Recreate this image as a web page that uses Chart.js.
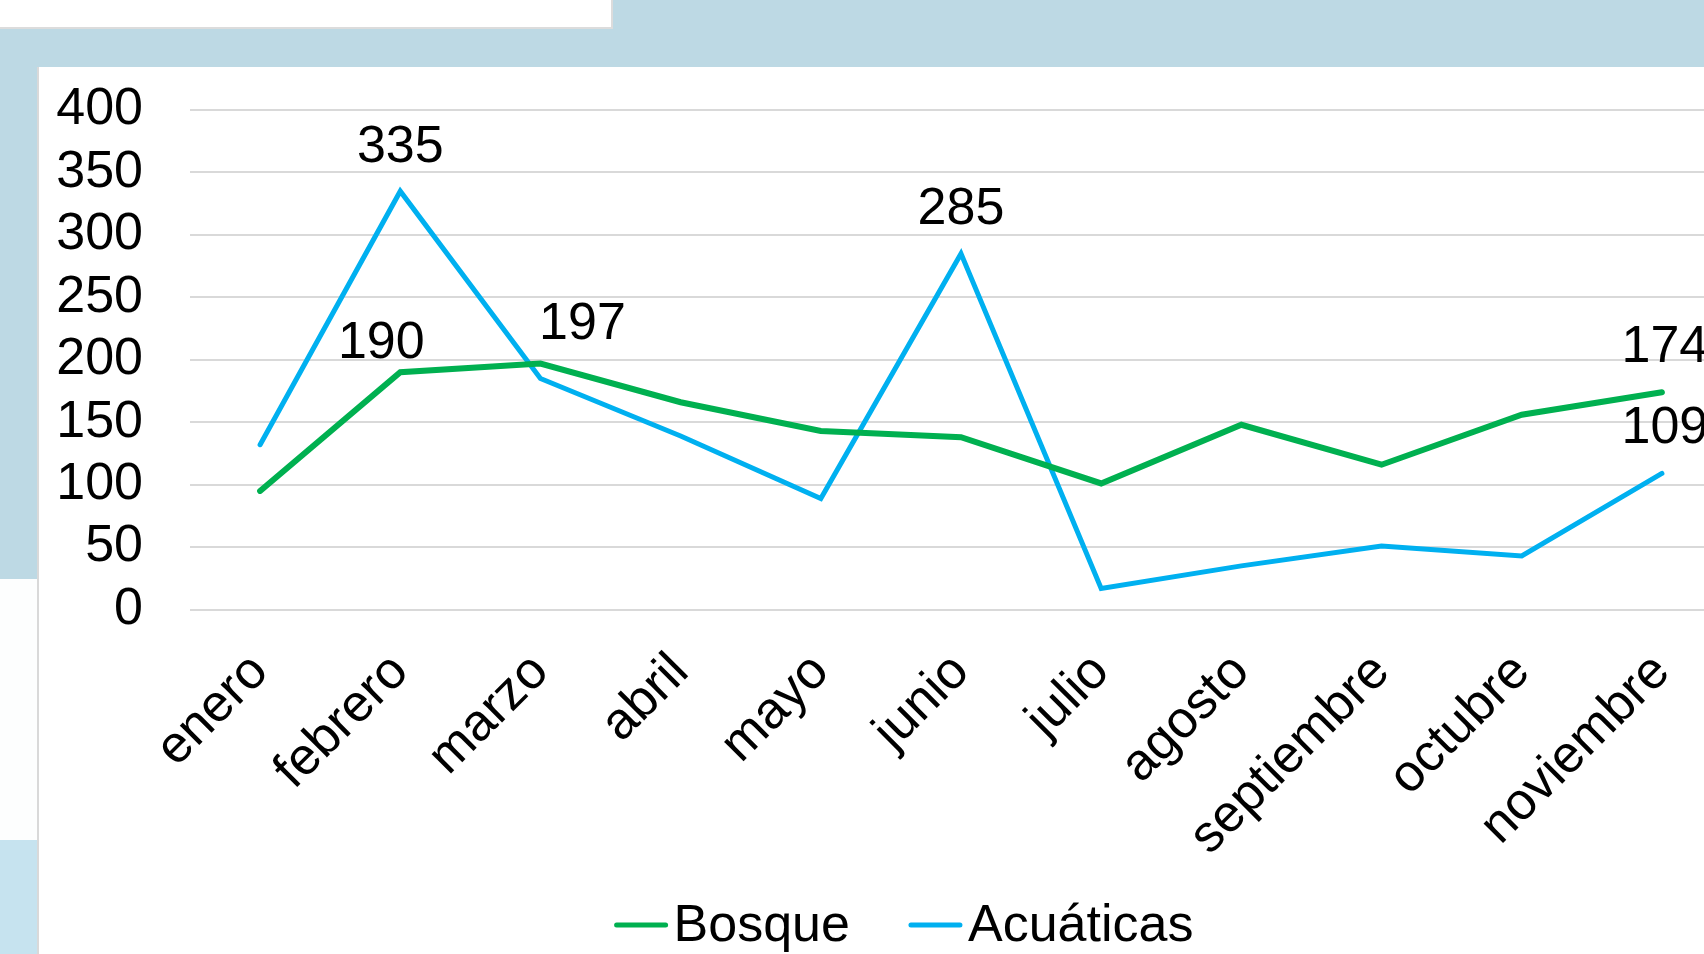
<!DOCTYPE html>
<html>
<head>
<meta charset="utf-8">
<script src="https://cdn.jsdelivr.net/npm/chart.js@4/dist/chart.umd.min.js"></script>
<style>
    html, body { margin: 0; padding: 0; }
    body { width: 1704px; height: 954px; overflow: hidden; position: relative; background: #bdd9e4; }
    .strip { position: absolute; }
    #topStrip { left: 0; top: 0; width: 611px; height: 27px; background: #fff; border-right: 2px solid #dcdcdc; border-bottom: 2px solid #dcdcdc; }
    #leftWhite { left: 0; top: 579px; width: 40px; height: 261px; background: #fdfefe; }
    #leftLight { left: 0; top: 840px; width: 40px; height: 114px; background: #c6e3ef; }
    #panel { left: 37px; top: 67px; width: 1800px; height: 900px; background: #fff; border-left: 2px solid #d9d9d9; }
    #chart { position: absolute; left: 39px; top: 67px; }
</style>
</head>
<body>
<div class="strip" id="topStrip"></div>
<div class="strip" id="leftWhite"></div>
<div class="strip" id="leftLight"></div>
<div class="strip" id="panel"></div>
<canvas id="chart" width="1730" height="887"></canvas>

<script>
const months = ['enero', 'febrero', 'marzo', 'abril', 'mayo', 'junio', 'julio',
    'agosto', 'septiembre', 'octubre', 'noviembre'];

const bosque = [95, 190, 197, 166, 143, 138, 101, 148, 116, 156, 174];
const acuaticas = [132, 335, 185, 139, 89, 285, 17, 35, 51, 43, 109];

// points that carry a value label in the original
const bosqueLabeled = [1, 2, 10];
const acuaticasLabeled = [1, 5, 10];

const yMin = 0;
const yMax = 400;
const yStep = 50;

const fontFamily = '"Liberation Sans", Arial, sans-serif';
const green = '#00b050';
const blue = '#00b0f0';

// label offsets (dx, dy) from the point, keyed "dataset-index"
const labelOffsets = {
    '0-1': [-19, -32],
    '0-2': [42, -42],
    '0-10': [3, -48],
    '1-10': [3, -48]
};

const valueLabels = {
    id: 'valueLabels',
    afterDatasetsDraw(chart) {
        const ctx = chart.ctx;
        ctx.save();
        ctx.font = '52px ' + fontFamily;
        ctx.fillStyle = '#000';
        ctx.textAlign = 'center';
        ctx.textBaseline = 'middle';
        chart.data.datasets.forEach((ds, d) => {
            const meta = chart.getDatasetMeta(d);
            ds.labeled.forEach((i) => {
                const pt = meta.data[i];
                const off = labelOffsets[d + '-' + i] || [0, -47];
                ctx.fillText(String(ds.data[i]), pt.x + off[0], pt.y + off[1] + 3);
            });
        });
        ctx.restore();
    }
};

const bottomLegend = {
    id: 'bottomLegend',
    afterDraw(chart) {
        const ctx = chart.ctx;
        ctx.save();
        ctx.font = '52px ' + fontFamily;
        ctx.textBaseline = 'middle';
        const lineLen = 53, gapText = 6, gapItem = 59;
        const items = chart.data.datasets.map((ds) => ({
            text: ds.label, color: ds.borderColor, w: ctx.measureText(ds.label).width
        }));
        let total = 0;
        items.forEach((it, k) => { total += lineLen + gapText + it.w + (k ? gapItem : 0); });
        let x = chart.width / 2 - total / 2;
        const y = 858;
        items.forEach((it) => {
            ctx.strokeStyle = it.color;
            ctx.lineWidth = 5;
            ctx.lineCap = 'round';
            ctx.beginPath();
            ctx.moveTo(x + 2, y);
            ctx.lineTo(x + lineLen - 2, y);
            ctx.stroke();
            ctx.fillStyle = '#000';
            ctx.fillText(it.text, x + lineLen + gapText, y + 2);
            x += lineLen + gapText + it.w + gapItem;
        });
        ctx.restore();
    }
};

new Chart(document.getElementById('chart').getContext('2d'), {
    type: 'line',
    data: {
        labels: months,
        datasets: [{
            label: 'Bosque',
            data: bosque,
            labeled: bosqueLabeled,
            borderColor: green,
            backgroundColor: green,
            borderWidth: 6,
            borderCapStyle: 'round',
            pointRadius: 0,
            tension: 0
        }, {
            label: 'Acuáticas',
            data: acuaticas,
            labeled: acuaticasLabeled,
            borderColor: blue,
            backgroundColor: blue,
            borderWidth: 5,
            borderCapStyle: 'round',
            pointRadius: 0,
            tension: 0
        }]
    },
    options: {
        responsive: false,
        devicePixelRatio: 1,
        animation: false,
        layout: { padding: { top: 43, right: 37, left: 0, bottom: 0 } },
        plugins: {
            legend: { display: false },
            tooltip: { enabled: false }
        },
        scales: {
            x: {
                offset: true,
                grid: { display: false },
                border: { display: false },
                ticks: {
                    color: '#000',
                    font: { size: 52, family: fontFamily },
                    maxRotation: 45,
                    minRotation: 45,
                    autoSkip: false,
                    padding: 24
                },
                afterFit(scale) { scale.height = 344.4; }
            },
            y: {
                min: yMin,
                max: yMax,
                grid: { color: '#d9d9d9', lineWidth: 2, drawTicks: false },
                border: { display: false },
                ticks: {
                    stepSize: yStep,
                    autoSkip: false,
                    color: '#000',
                    font: { size: 52, family: fontFamily },
                    padding: 47
                },
                afterFit(scale) {
                    scale.width = 151;
                    // the big tick padding should not push the plot area down
                    scale.paddingTop = 0;
                    scale.paddingBottom = 0;
                }
            }
        }
    },
    plugins: [valueLabels, bottomLegend]
});
</script>
</body>
</html>
